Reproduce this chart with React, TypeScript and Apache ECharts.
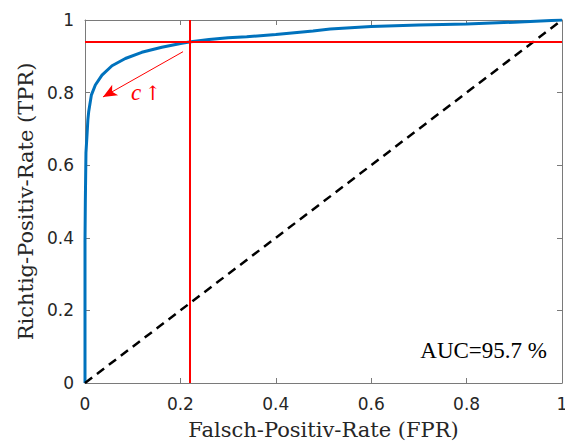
import React, { useEffect, useRef } from "react";
import * as echarts from "echarts";

// ROC curve
const fpr = [0, 0, 0.0007, 0.002, 0.0042, 0.006, 0.0077, 0.0133, 0.0217, 0.0356, 0.0566, 0.0846, 0.119, 0.161, 0.203, 0.222, 0.26, 0.3, 0.339, 0.4, 0.478, 0.514, 0.6, 0.7, 0.8, 0.9, 1.0];
const tpr = [0, 0.39, 0.5, 0.634, 0.683, 0.725, 0.747, 0.793, 0.821, 0.848, 0.874, 0.894, 0.911, 0.925, 0.936, 0.94, 0.946, 0.951, 0.954, 0.96, 0.97, 0.975, 0.982, 0.986, 0.989, 0.994, 1.0];

// chance diagonal
const diagFpr = [0, 1];
const diagTpr = [0, 1];

// chosen operating point
const thresholdFpr = 0.2216;
const thresholdTpr = 0.939;

// annotation arrow (c increasing) and its label
const arrowFrom = [0.2055, 0.9127];
const arrowTo = [0.0377, 0.788];
const arrowLabelAt = [0.128, 0.8];

const tickValues = [0, 0.2, 0.4, 0.6, 0.8, 1];
const aucPercent = 95.7;

const xTitle = "Falsch-Positiv-Rate (FPR)";
const yTitle = "Richtig-Positiv-Rate (TPR)";

const AXIS_COLOR = "#262626";
const LINE_COLOR = "#7a7a7a";

function makeAxis(kind: "x" | "y", position: string, main: boolean) {
  return {
    type: "value",
    min: tickValues[0],
    max: tickValues[tickValues.length - 1],
    interval: tickValues[1] - tickValues[0],
    position,
    axisLine: { show: true, onZero: false, lineStyle: { color: LINE_COLOR, width: 1 } },
    axisTick: { show: true, inside: true, length: 5, lineStyle: { color: LINE_COLOR, width: 1 } },
    axisLabel: main
      ? {
          show: true,
          margin: kind === "x" ? 12 : 11,
          fontFamily: "DejaVu Sans",
          fontSize: 17,
          color: AXIS_COLOR,
        }
      : { show: false },
    splitLine: { show: false },
    ...(main
      ? {
          name: kind === "x" ? xTitle : yTitle,
          nameLocation: "middle",
          nameGap: kind === "x" ? 36 : 48,
          nameTextStyle: { fontFamily: "DejaVu Serif", fontSize: 21, color: AXIS_COLOR },
        }
      : {}),
  };
}

export default function App() {
  const ref = useRef<HTMLDivElement>(null);
  useEffect(() => {
    if (!ref.current) return;
    const chart = echarts.init(ref.current, undefined, { renderer: "svg" });
    const rocData = fpr.map((x, i) => [x, tpr[i]]);
    const diagData = diagFpr.map((x, i) => [x, diagTpr[i]]);
    chart.setOption({
      animation: false,
      backgroundColor: "#ffffff",
      grid: { left: 85, right: 3, top: 20, bottom: 61, containLabel: false, outerBoundsMode: "none" },
      xAxis: [makeAxis("x", "bottom", true), makeAxis("x", "top", false)],
      yAxis: [makeAxis("y", "left", true), makeAxis("y", "right", false)],
      graphic: [
        {
          type: "text",
          right: 18,
          top: 339,
          style: {
            text: "AUC=" + aucPercent + " %",
            fontFamily: "Liberation Serif",
            fontSize: 23,
            fill: "#000000",
          },
        },
      ],
      series: [
        {
          name: "ROC",
          type: "line",
          data: rocData,
          showSymbol: false,
          symbol: "none",
          lineStyle: { color: "#0072BD", width: 3 },
          z: 2,
        },
        {
          name: "Zufall",
          type: "line",
          data: diagData,
          showSymbol: false,
          symbol: "none",
          lineStyle: { color: "#000000", width: 2.5, type: [9, 6] },
          z: 3,
        },
        {
          name: "Arbeitspunkt",
          type: "line",
          data: [],
          z: 4,
          markLine: {
            silent: true,
            animation: false,
            symbol: "none",
            label: { show: false },
            lineStyle: { color: "#ff0000", width: 2, type: "solid" },
            data: [{ xAxis: thresholdFpr }, { yAxis: thresholdTpr }],
          },
        },
        {
          name: "Pfeil",
          type: "line",
          data: [],
          z: 5,
          markLine: {
            silent: true,
            animation: false,
            symbol: ["none", "arrow"],
            symbolSize: [9, 14],
            label: { show: false },
            lineStyle: { color: "#ff0000", width: 1, type: "solid" },
            data: [[{ coord: arrowFrom }, { coord: arrowTo }]],
          },
          markPoint: {
            silent: true,
            animation: false,
            symbol: "circle",
            symbolSize: 0,
            label: {
              show: true,
              position: "inside",
              formatter: "{c|c} {a|↑}",
              rich: {
                c: { fontFamily: "Liberation Serif", fontStyle: "italic", fontSize: 23, color: "#ff0000" },
                a: { fontFamily: "DejaVu Serif", fontSize: 20, color: "#ff0000" },
              },
            },
            data: [{ coord: arrowLabelAt }],
          },
        },
      ],
    });
    return () => chart.dispose();
  }, []);
  return (
    <div
      ref={ref}
      style={{ position: "fixed", left: 0, top: 0, width: 565, height: 444 }}
    />
  );
}
